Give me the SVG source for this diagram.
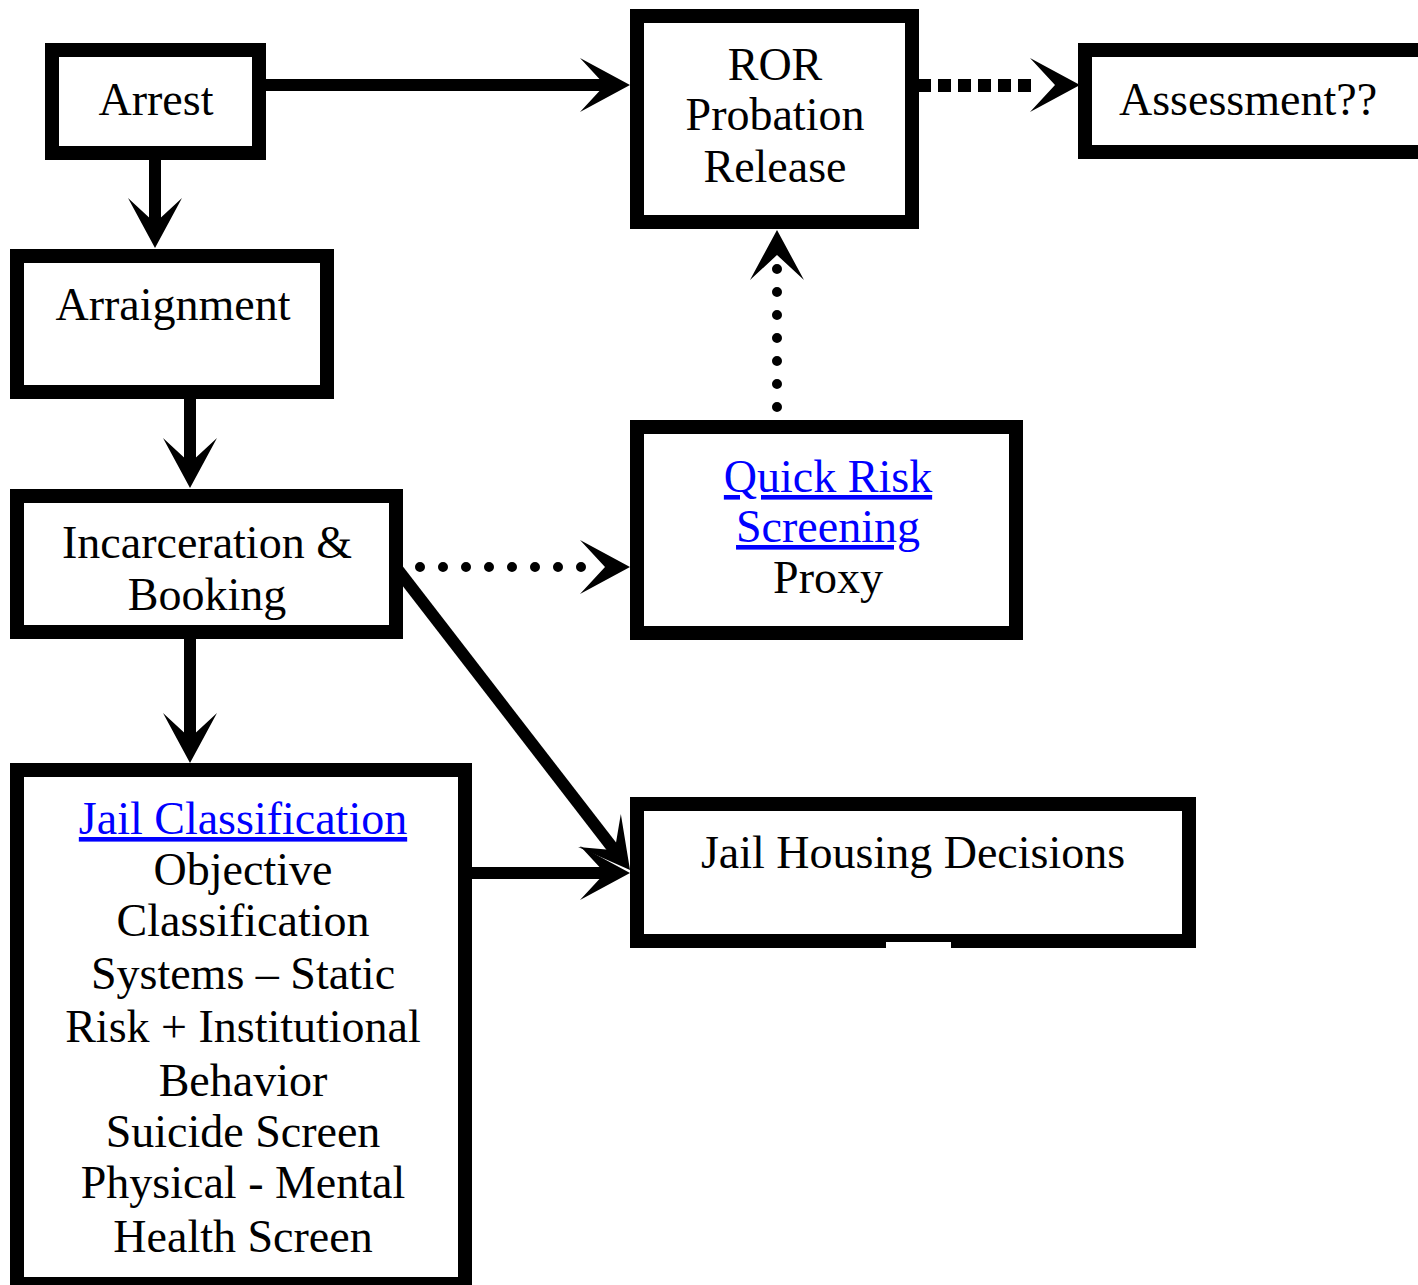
<svg xmlns="http://www.w3.org/2000/svg" xmlns:xlink="http://www.w3.org/1999/xlink" width="1418" height="1285" viewBox="0 0 1418 1285">
<style>
.box{fill:#fff;stroke:#000;stroke-width:14}
.t{font-family:'Liberation Serif','DejaVu Serif',serif;font-size:46px;fill:#000;text-anchor:middle}
.link{fill:#0000ff;text-decoration:underline}
.solid{fill:none;stroke:#000;stroke-width:12}
.dots{fill:none;stroke:#000;stroke-width:10;stroke-linecap:round;stroke-dasharray:0 23}
.dash{fill:none;stroke:#000;stroke-width:13;stroke-dasharray:13 7}
</style>
<defs>
<path id="ah" d="M0,0 L-50,-27 L-25,0 L-50,27 Z" fill="#000"/>
</defs>
<rect width="1418" height="1285" fill="#fff"/>
<g id="connectors">
<path class="solid" d="M266,85 L606,85"/>
<use xlink:href="#ah" transform="translate(630,85)"/>
<path class="solid" d="M155,160 L155,224"/>
<use xlink:href="#ah" transform="translate(155,248) rotate(90)"/>
<path class="solid" d="M190,399 L190,464"/>
<use xlink:href="#ah" transform="translate(190,488) rotate(90)"/>
<path class="solid" d="M190,639 L190,739"/>
<use xlink:href="#ah" transform="translate(190,763) rotate(90)"/>
<path class="solid" d="M398,570 L615,851"/>
<use xlink:href="#ah" transform="translate(630,870) rotate(52.35)"/>
<path class="solid" d="M472,873 L606,873"/>
<use xlink:href="#ah" transform="translate(630,873)"/>
<path class="dash" d="M918,85.5 L1034,85.5"/>
<use xlink:href="#ah" transform="translate(1080,85)"/>
<path class="dots" d="M420,567 L600,567"/>
<use xlink:href="#ah" transform="translate(630,567)"/>
<path class="dots" d="M777,407 L777,260"/>
<use xlink:href="#ah" transform="translate(777,230) rotate(-90)"/>
</g>
<g id="arrest">
<rect class="box" x="52" y="50" width="207" height="103"/>
<text class="t" x="156" y="115" font-family="Liberation Serif">Arrest</text>
</g>
<g id="arraignment">
<rect class="box" x="17" y="256" width="310" height="136"/>
<text class="t" x="173" y="320">Arraignment</text>
</g>
<g id="incarceration">
<rect class="box" x="17" y="496" width="379" height="136"/>
<text class="t" x="207" y="558">Incarceration &amp;</text>
<text class="t" x="207" y="610">Booking</text>
</g>
<g id="jail-classification">
<rect class="box" x="17" y="770" width="448" height="514"/>
<text class="t link" x="243" y="834">Jail Classification</text>
<text class="t" x="243" y="885">Objective</text>
<text class="t" x="243" y="936">Classification</text>
<text class="t" x="243" y="989">Systems – Static</text>
<text class="t" x="243" y="1042">Risk + Institutional</text>
<text class="t" x="243" y="1096">Behavior</text>
<text class="t" x="243" y="1147">Suicide Screen</text>
<text class="t" x="243" y="1198">Physical - Mental</text>
<text class="t" x="243" y="1252">Health Screen</text>
</g>
<g id="ror">
<rect class="box" x="637" y="16" width="275" height="206"/>
<text class="t" x="775" y="80">ROR</text>
<text class="t" x="775" y="130">Probation</text>
<text class="t" x="775" y="182">Release</text>
</g>
<g id="assessment">
<rect class="box" x="1085" y="50" width="400" height="102"/>
<text class="t" x="1119" y="115" style="text-anchor:start">Assessment??</text>
</g>
<g id="quick-risk">
<rect class="box" x="637" y="427" width="379" height="206"/>
<text class="t link" x="828" y="492">Quick Risk</text>
<text class="t link" x="828" y="542">Screening</text>
<text class="t" x="828" y="593">Proxy</text>
</g>
<g id="jail-housing">
<rect class="box" x="637" y="804" width="552" height="137"/>
<rect x="886" y="942" width="65" height="6" fill="#fff"/>
<text class="t" x="913" y="868">Jail Housing Decisions</text>
</g>
</svg>
